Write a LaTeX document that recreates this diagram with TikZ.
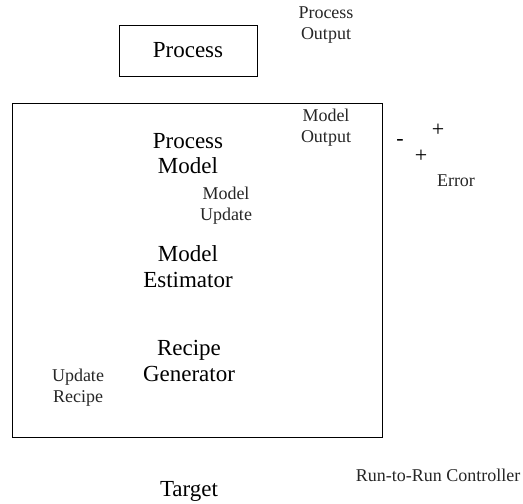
\documentclass[tikz,border=0pt]{standalone}
\usepackage{fontspec}
\setmainfont{Liberation Serif}
\begin{document}
\begin{tikzpicture}[x=1pt,y=-1pt,
  frame/.style={draw, line width=0.9pt, inner sep=0pt},
  big/.style={align=center, inner sep=0pt, font=\fontsize{23}{25.5}\selectfont},
  small/.style={align=center, inner sep=0pt, font=\fontsize{18}{21}\selectfont, text=black!85},
  sign/.style={inner sep=0pt, font=\fontsize{22}{22}\selectfont}]
\useasboundingbox (0,0) rectangle (523,504);

% plant block
\node[frame, minimum width=138pt, minimum height=51pt, font=\fontsize{23}{25}\selectfont] (process) at (188,50.5) {Process};

% controller boundary
\node[frame, minimum width=370pt, minimum height=334pt] (ctrl) at (197,270) {};

% functional blocks inside the controller
\node[big] (pmodel) at (188,153.5) {Process\\Model};
\node[big] (estim) at (188,266.5) {Model\\Estimator};
\node[big] (recipe) at (189,361) {Recipe\\Generator};
\node[big] (target) at (189,491) {Target};

% signal labels
\node[small] (pout) at (326,25.5) {Process\\Output};
\node[small] (mout) at (326,127.5) {Model\\Output};
\node[small] (mupd) at (226,206) {Model\\Update};
\node[small] (urec) at (78,387.5) {Update\\Recipe};
\node[small] (err) at (456,181) {Error};
\node[small] (r2r) at (438,475) {Run-to-Run Controller};

% summing junction signs
\node[sign] (minus) at (400,142) {-};
\node[sign] (plusa) at (438,130) {+};
\node[sign] (plusb) at (421,156) {+};
\end{tikzpicture}
\end{document}
